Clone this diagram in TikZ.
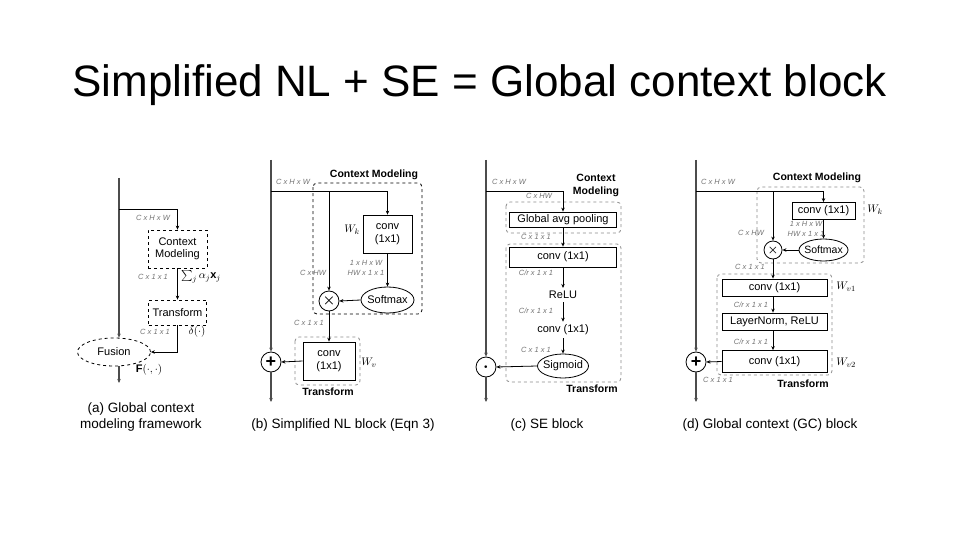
\documentclass[tikz,border=0pt]{standalone}
\usepackage{fontspec}
\setmainfont{Liberation Sans}
\usepackage{amsmath}
\usetikzlibrary{arrows.meta,shapes.geometric,positioning}
\tikzset{
  box/.style   = {draw, line width=0.8pt, inner sep=0pt, align=center,
                  font=\fontsize{11}{12.5}\selectfont},
  dbox/.style  = {draw, dashed, line width=0.8pt, inner sep=0pt, align=center,
                  font=\fontsize{11}{12.5}\selectfont},
  oval/.style  = {ellipse, draw, line width=0.8pt, inner sep=0pt,
                  font=\fontsize{11}{12.5}\selectfont},
  plain/.style = {inner sep=0pt, font=\fontsize{11}{12.5}\selectfont},
  op/.style    = {circle, draw, line width=0.8pt, minimum size=20pt, inner sep=0pt,
                  font=\fontsize{18}{18}\selectfont\bfseries},
  dfrm/.style  = {dashed, line width=0.8pt, rounded corners=4pt},
  trunk/.style = {line width=1.4pt, black!70},
  wire/.style  = {line width=0.8pt},
  vec/.style   = {-{Stealth[length=4pt,width=3.5pt]}},
  lbl/.style   = {inner sep=0pt, align=center, text=black!55,
                  font=\fontsize{7.5}{9.5}\selectfont\itshape},
  head/.style  = {inner sep=0pt, align=center, font=\fontsize{10.5}{13}\selectfont\bfseries},
  sym/.style   = {inner sep=0pt, font=\fontsize{11}{12}\selectfont},
  capt/.style  = {inner sep=0pt, align=center, font=\fontsize{13.5}{16}\selectfont},
}

\begin{document}
\begin{tikzpicture}[x=1pt,y=-1pt]
  \useasboundingbox (0,0) rectangle (960,540);
  \node[font=\fontsize{44}{50}\selectfont, anchor=base, inner sep=0pt] (title) at (479.5,97)
    {Simplified NL + SE = Global context block};
  %
  % (a) framework
  \coordinate (aTop) at (119,178);
  \coordinate (aTurn) at (177.5,209);
  \coordinate (aOut) at (119,383);
  \node[dbox, minimum width=59pt, minimum height=38pt] (aCtx) at (177.5,249) {Context\\Modeling};
  \node[dbox, minimum width=58pt, minimum height=25pt] (aTr) at (177.5,312.5) {Transform};
  \node[dbox, ellipse, minimum width=73pt, minimum height=28pt] (aFus) at (114,352) {Fusion};
  \draw[trunk,vec] (aTop) -- (aTop |- aFus.north);
  \draw[wire] (aTop |- aTurn) -- (aTurn);
  \draw[wire,vec] (aTurn) -- (aCtx.north);
  \draw[wire,vec] (aCtx.south) -- (aTr.north);
  \draw[wire,vec] (aTr.south) |- (aFus.east);
  \draw[trunk,vec] (aTop |- aFus.south) -- (aOut);
  \node[lbl] (aL1) at (153,218) {C x H x W};
  \node[lbl] (aL2) at (153,277) {C x 1 x 1};
  \node[sym] (aSum) at (201,277) {$\sum_j \alpha_j \mathbf{x}_j$};
  \node[lbl] (aL3) at (155,332) {C x 1 x 1};
  \node[sym] (aDel) at (197,332) {$\delta(\cdot)$};
  \node[sym] (aF) at (149,370) {\textbf{F}$(\cdot,\cdot)$};
  \node[capt] (aCap) at (141,417) {(a) Global context\\modeling framework};
  %
  % (b) simplified NL block
  \coordinate (bTop) at (271,160);
  \coordinate (bTurn) at (387.5,191);
  \coordinate (bSplit) at (329,191);
  \coordinate (bOut) at (271,402);
  \draw[dfrm] (313,183) rectangle (422,314);
  \draw[dfrm, black!45] (295,337) rectangle (360,385);
  \node[box, minimum width=49pt, minimum height=38pt] (bConvK) at (387.5,234) {conv\\(1x1)};
  \node[oval, minimum width=53pt, minimum height=26pt] (bSoft) at (387.5,300) {\makebox[0pt]{Softmax}};
  \node[op, font=\fontsize{14}{14}\selectfont] (bMul) at (329,301) {$\boldsymbol{\times}$};
  \node[box, minimum width=52pt, minimum height=38pt] (bConvV) at (329,361) {conv\\(1x1)};
  \node[op] (bAdd) at (271,362) {+};
  \draw[trunk,vec] (bTop) -- (bAdd.north);
  \draw[wire] (bTop |- bTurn) -- (bTurn);
  \draw[wire,vec] (bTurn) -- (bConvK.north);
  \draw[wire,vec] (bSplit) -- (bMul.north);
  \draw[wire,vec] (bConvK.south) -- (bSoft.north);
  \draw[wire,vec] (bSoft.west) -- (bMul.east);
  \draw[wire,vec] (bMul.south) -- (bConvV.north);
  \draw[wire,vec] (bConvV.west) -- (bAdd.east);
  \draw[trunk,vec] (bAdd.south) -- (bOut);
  \node[lbl] (bL1) at (293,182) {C x H x W};
  \node[head] (bH1) at (374,175) {Context Modeling};
  \node[lbl] (bL2) at (366,268) {1 x H x W\\HW x 1 x 1};
  \node[lbl] (bL3) at (313,273) {C x HW};
  \node[lbl] (bL4) at (309,323) {C x 1 x 1};
  \node[sym] (bWk) at (352,230) {$W_k$};
  \node[sym] (bWv) at (369,363) {$W_v$};
  \node[head] (bH2) at (328,392) {Transform};
  \node[capt] (bCap) at (343,425) {(b) Simplified NL block (Eqn 3)};
  %
  % (c) SE block
  \coordinate (cTop) at (486,160);
  \coordinate (cTurn) at (563,191);
  \coordinate (cOut) at (486,402);
  \draw[dfrm, black!45] (506,202) rectangle (621,233);
  \draw[dfrm, black!45] (506,244) rectangle (621,382);
  \node[box, minimum width=107pt, minimum height=15pt] (cGap) at (563,219.5) {Global avg pooling};
  \node[box, minimum width=107pt, minimum height=20pt] (cConvA) at (563,257) {conv (1x1)};
  \node[plain] (cRelu) at (563,295) {ReLU};
  \node[plain] (cConvB) at (563,330) {conv (1x1)};
  \node[oval, minimum width=51pt, minimum height=24pt] (cSig) at (563,366) {\makebox[0pt]{Sigmoid}};
  \node[op] (cMul) at (486,367) {$\boldsymbol{\cdot}$};
  \draw[trunk,vec] (cTop) -- (cMul.north);
  \draw[wire] (cTop |- cTurn) -- (cTurn);
  \draw[wire,vec] (cTurn) -- (cGap.north);
  \draw[wire,vec] (cGap.south) -- (cConvA.north);
  \draw[wire,vec] (cConvA.south) -- ([yshift=3pt]cRelu.north);
  \draw[wire,vec] ([yshift=-3pt]cRelu.south) -- ([yshift=3pt]cConvB.north);
  \draw[wire,vec] ([yshift=-3pt]cConvB.south) -- (cSig.north);
  \draw[wire,vec] (cSig.west) -- (cMul.east);
  \draw[trunk,vec] (cMul.south) -- (cOut);
  \node[lbl] (cL1) at (509,182) {C x H x W};
  \node[lbl] (cL2) at (539,196) {C x HW};
  \node[head] (cH1) at (596,185) {Context\\Modeling};
  \node[lbl] (cL3) at (536,237) {C x 1 x 1};
  \node[lbl] (cL4) at (536,273) {C/r x 1 x 1};
  \node[lbl] (cL5) at (536,311) {C/r x 1 x 1};
  \node[lbl] (cL6) at (536,350) {C x 1 x 1};
  \node[head] (cH2) at (592,389) {Transform};
  \node[capt] (cCap) at (547,425) {(c) SE block};
  %
  % (d) GC block
  \coordinate (dTop) at (696,160);
  \coordinate (dTurn) at (823.5,191);
  \coordinate (dSplit) at (773,191);
  \coordinate (dOut) at (696,402);
  \draw[dfrm, black!45] (757,187) rectangle (864,263);
  \draw[dfrm, black!45] (717,274) rectangle (832,375);
  \node[box, minimum width=63pt, minimum height=17pt] (dConvK) at (823.5,211) {conv (1x1)};
  \node[oval, minimum width=49pt, minimum height=22pt, font=\fontsize{10.5}{12}\selectfont]
    (dSoft) at (823.5,250) {\makebox[0pt]{Softmax}};
  \node[op, minimum size=18pt, font=\fontsize{13}{13}\selectfont] (dMul) at (773,250) {$\boldsymbol{\times}$};
  \node[box, minimum width=105pt, minimum height=17pt] (dConvA) at (774.5,287.5) {conv (1x1)};
  \node[box, minimum width=105pt, minimum height=17pt] (dNorm) at (774.5,321.5) {LayerNorm, ReLU};
  \node[box, minimum width=105pt, minimum height=22pt] (dConvB) at (774.5,361.5) {conv (1x1)};
  \node[op] (dAdd) at (696,362) {+};
  \draw[trunk,vec] (dTop) -- (dAdd.north);
  \draw[wire] (dTop |- dTurn) -- (dTurn);
  \draw[wire,vec] (dTurn) -- (dConvK.north);
  \draw[wire,vec] (dSplit) -- (dMul.north);
  \draw[wire,vec] (dConvK.south) -- (dSoft.north);
  \draw[wire,vec] (dSoft.west) -- (dMul.east);
  \draw[wire,vec] (dMul.south) -- (dMul |- dConvA.north);
  \draw[wire,vec] (dConvA.south -| dMul) -- (dNorm.north -| dMul);
  \draw[wire,vec] (dNorm.south -| dMul) -- (dConvB.north -| dMul);
  \draw[wire,vec] (dConvB.west) -- (dAdd.east);
  \draw[trunk,vec] (dAdd.south) -- (dOut);
  \node[lbl] (dL1) at (718,182) {C x H x W};
  \node[head] (dH1) at (817,178) {Context Modeling};
  \node[lbl] (dL2) at (806,229) {1 x H x W\\HW x 1 x 1};
  \node[lbl] (dL3) at (751,233) {C x HW};
  \node[lbl] (dL4) at (750,267) {C x 1 x 1};
  \node[lbl] (dL5) at (751,305) {C/r x 1 x 1};
  \node[lbl] (dL6) at (751,342) {C/r x 1 x 1};
  \node[lbl] (dL7) at (718,380) {C x 1 x 1};
  \node[sym] (dWk) at (875,210) {$W_k$};
  \node[sym] (dWa) at (846,287) {$W_{v1}$};
  \node[sym] (dWb) at (846,363) {$W_{v2}$};
  \node[head] (dH2) at (803,384) {Transform};
  \node[capt] (dCap) at (770,425) {(d) Global context (GC) block};
\end{tikzpicture}
\end{document}
